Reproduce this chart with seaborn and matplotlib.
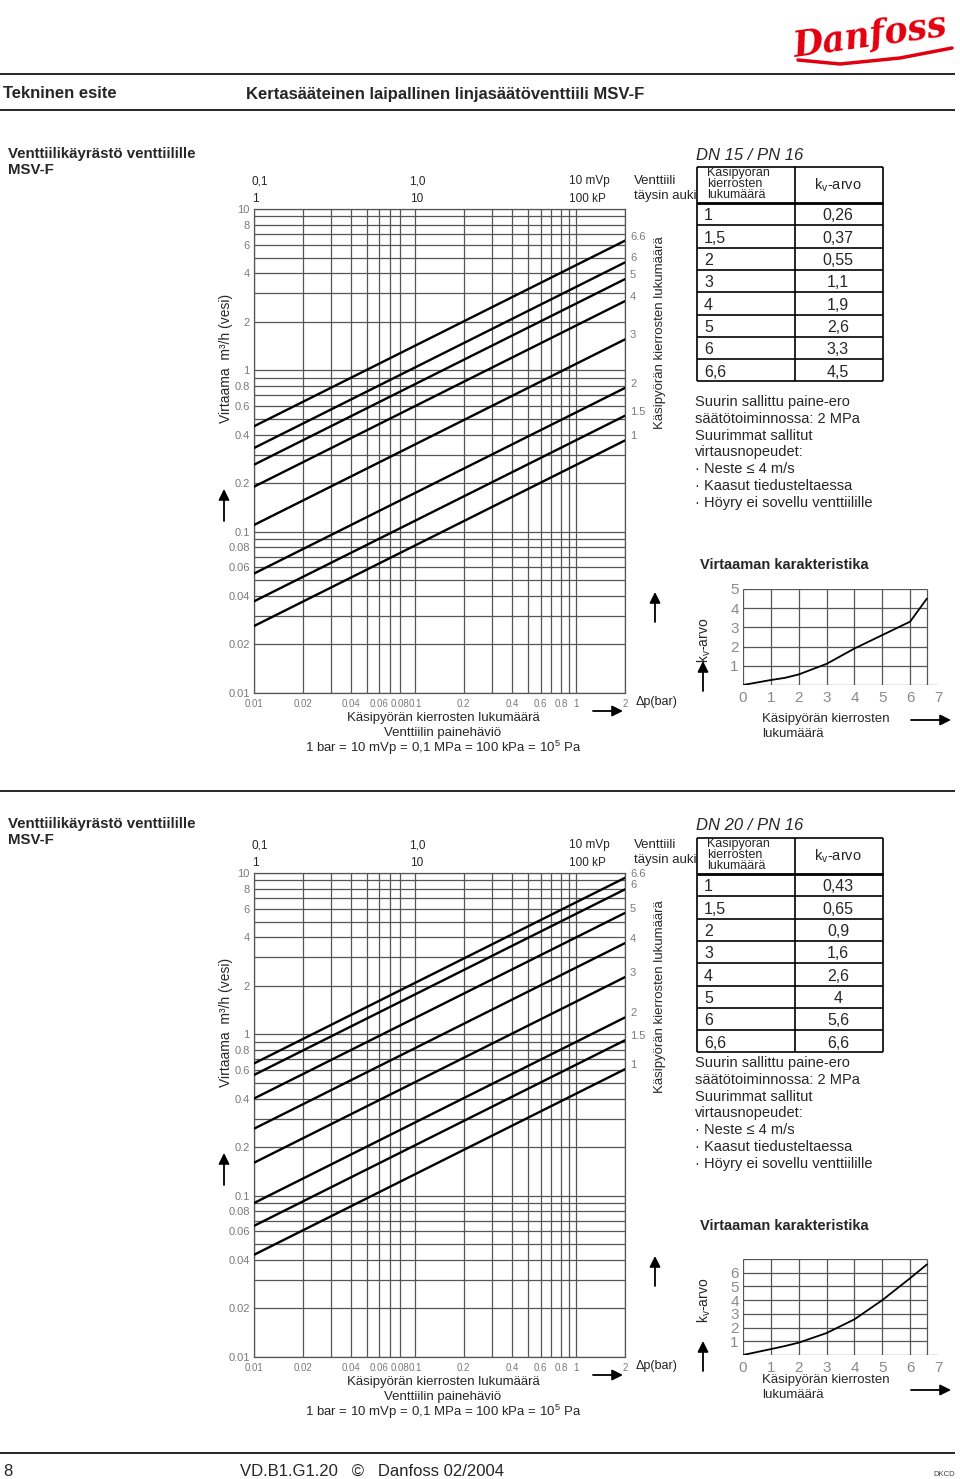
import numpy as np
import pandas as pd
import matplotlib
matplotlib.use("Agg")
import matplotlib.pyplot as plt
from matplotlib.ticker import NullLocator
import seaborn as sns

# ---------------- data ----------------
turns = [1, 1.5, 2, 3, 4, 5, 6, 6.6]
turn_labels = ["1", "1.5", "2", "3", "4", "5", "6", "6.6"]
turn_labels_fi = ["1", "1,5", "2", "3", "4", "5", "6", "6,6"]
kv_dn15 = [0.26, 0.37, 0.55, 1.1, 1.9, 2.6, 3.3, 4.5]
kv_dn20 = [0.43, 0.65, 0.9, 1.6, 2.6, 4, 5.6, 6.6]
kv_dn15_labels = ["0,26", "0,37", "0,55", "1,1", "1,9", "2,6", "3,3", "4,5"]
kv_dn20_labels = ["0,43", "0,65", "0,9", "1,6", "2,6", "4", "5,6", "6,6"]
dp_range = [0.01, 2]           # bar
x_ticks = [0.01, 0.02, 0.04, 0.06, 0.08, 0.1, 0.2, 0.4, 0.6, 0.8, 1, 2]
x_ticklabels = ["0.01", "0.02", "0.04", "0.06", "0.08", "0.1", "0.2", "0.4", "0.6", "0.8", "1", "2"]
y_ticks = [0.01, 0.02, 0.04, 0.06, 0.08, 0.1, 0.2, 0.4, 0.6, 0.8, 1, 2, 4, 6, 8, 10]
y_ticklabels = ["0.01", "0.02", "0.04", "0.06", "0.08", "0.1", "0.2", "0.4", "0.6", "0.8", "1", "2", "4", "6", "8", "10"]
x_grid = [0.01, 0.02, 0.03, 0.04, 0.05, 0.06, 0.07, 0.08, 0.1, 0.2, 0.3, 0.4, 0.5, 0.6, 0.7, 0.8, 0.9, 1, 2]
y_grid = [0.01, 0.02, 0.03, 0.04, 0.05, 0.06, 0.07, 0.08, 0.09,
          0.1, 0.2, 0.3, 0.4, 0.5, 0.6, 0.7, 0.8, 0.9,
          1, 2, 3, 4, 5, 6, 7, 8, 9, 10]
char_turns = [0, 1, 1.5, 2, 3, 4, 5, 6, 6.6]
char_dn15 = [0, 0.26, 0.37, 0.55, 1.1, 1.9, 2.6, 3.3, 4.5]
char_dn20 = [0, 0.43, 0.65, 0.9, 1.6, 2.6, 4, 5.6, 6.6]
notes = ["Suurin sallittu paine-ero", "säätötoiminnossa: 2 MPa", "Suurimmat sallitut",
         "virtausnopeudet:", "· Neste ≤ 4 m/s", "· Kaasut tiedusteltaessa",
         "· Höyry ei sovellu venttiilille"]

# ---------------- style ----------------
sns.set_theme(style="white")
plt.rcParams["font.family"] = ["Liberation Sans", "DejaVu Sans"]
plt.rcParams["mathtext.fontset"] = "custom"
plt.rcParams["mathtext.rm"] = "Liberation Sans"
TICKFONT = ["Liberation Sans", "DejaVu Sans"]
GRID = "#555555"
TICKC = "#7a7a7a"

W, H = 960, 1479
fig = plt.figure(figsize=(W / 100, H / 100), dpi=100)
ov = fig.add_axes([0, 0, 1, 1])
ov.set_xlim(0, W)
ov.set_ylim(H, 0)
ov.axis("off")


def axes_px(left, top, right, bottom):
    return fig.add_axes([left / W, 1 - bottom / H, (right - left) / W, (bottom - top) / H])


def txt(x, y, s, **kw):
    kw.setdefault("va", "center")
    kw.setdefault("fontsize", 10)
    ov.text(x, y, s, **kw)


def hline(y, x0, x1, lw=1.0, color="black"):
    ov.plot([x0, x1], [y, y], color=color, lw=lw, solid_capstyle="butt")


def vline(x, y0, y1, lw=1.0, color="black"):
    ov.plot([x, x], [y0, y1], color=color, lw=lw, solid_capstyle="butt")


def arrow(x0, y0, x1, y1):
    ov.annotate("", xy=(x1, y1), xytext=(x0, y0),
                arrowprops=dict(arrowstyle="-|>", color="black", lw=1.3,
                                mutation_scale=16, shrinkA=0, shrinkB=0))


# ---------------- header / footer ----------------
txt(950, 36, "Danfoss", ha="right", fontsize=25, color="#E2000F",
    family="DejaVu Serif", fontweight="bold", fontstyle="italic", rotation=8)
ov.plot([798, 840, 900, 952], [60, 64, 58, 48], color="#E2000F", lw=2.5)
hline(74, 0, 955, lw=1.2)
hline(110, 0, 955, lw=1.2)
txt(3, 94, "Tekninen esite", fontsize=12, fontweight="bold")
txt(246, 94, "Kertasääteinen laipallinen linjasäätöventtiili MSV-F", fontsize=12, fontweight="bold")
hline(791, 0, 955, lw=1.2)
hline(1453, 0, 955, lw=1.2)
txt(3, 1471, "8", fontsize=12)
txt(240, 1471, "VD.B1.G1.20   ©   Danfoss 02/2004", fontsize=12)
txt(955, 1475, "DKCD", ha="right", fontsize=5.5, color="#444")


# ---------------- main chart ----------------
def draw_main(top, kv, dy):
    ax = axes_px(254, top, 625, top + 484)
    rows = []
    for t, k in zip(turn_labels, kv):
        for dp in dp_range:
            rows.append({"turns": t, "dp": dp, "flow": k * np.sqrt(dp)})
    df = pd.DataFrame(rows)
    sns.lineplot(data=df, x="dp", y="flow", units="turns", estimator=None,
                 color="black", lw=1.7, ax=ax, legend=False, zorder=3)
    ax.set_xscale("log")
    ax.set_yscale("log")
    ax.set_xlim(0.01, 2)
    ax.set_ylim(0.01, 10)
    for v in x_grid:
        ax.axvline(v, color=GRID, lw=0.9, zorder=1)
    for v in y_grid:
        ax.axhline(v, color=GRID, lw=0.9, zorder=1)
    for s in ax.spines.values():
        s.set_color(GRID)
        s.set_linewidth(0.9)
    ax.set_xticks(x_ticks, x_ticklabels)
    ax.set_yticks(y_ticks, y_ticklabels)
    ax.xaxis.set_minor_locator(NullLocator())
    ax.yaxis.set_minor_locator(NullLocator())
    ax.tick_params(axis="y", length=0, labelsize=8, labelcolor=TICKC, pad=3)
    ax.tick_params(axis="x", length=0, labelsize=7, labelcolor=TICKC, pad=4)
    for lab in ax.get_xticklabels() + ax.get_yticklabels():
        lab.set_family(TICKFONT)
    ax.set_xlabel("")
    ax.set_ylabel("")
    ax.set_facecolor("white")
    for t, k in zip(turn_labels, kv):
        ax.annotate(t, xy=(2, k * np.sqrt(2)), xytext=(5, 4), textcoords="offset pixels",
                    fontsize=8, color=TICKC, va="center", ha="left", annotation_clip=False,
                    family=TICKFONT)
    # surrounding texts (pixel positions)
    txt(252, 181 + dy, "0,1", fontsize=8.5)
    txt(417, 181 + dy, "1,0", fontsize=8.5, ha="center")
    txt(569, 181 + dy, "10 mVp", fontsize=8.5)
    txt(252, 199 + dy, "1", fontsize=8.5)
    txt(417, 199 + dy, "10", fontsize=8.5, ha="center")
    txt(569, 199 + dy, "100 kP", fontsize=8.5)
    txt(226, 358 + dy, "Virtaama  m³/h (vesi)", rotation=90, ha="center", fontsize=10)
    txt(660, 333 + dy, "Käsipyörän kierrosten lukumäärä", rotation=90, ha="center", fontsize=9.5)
    txt(634, 181 + dy, "Venttiili", fontsize=9.5)
    txt(634, 196 + dy, "täysin auki", fontsize=9.5)
    txt(443, 718 + dy, "Käsipyörän kierrosten lukumäärä", ha="center", fontsize=9.5)
    txt(443, 733 + dy, "Venttiilin painehäviö", ha="center", fontsize=9.5)
    txt(443, 748 + dy, r"1 bar = 10 mVp = 0,1 MPa = 100 kPa = 10$^\mathregular{5}$ Pa", ha="center", fontsize=9.5)
    txt(636, 702 + dy, "Δp(bar)", fontsize=9, color="#222")
    arrow(224, 521 + dy, 224, 489 + dy)
    arrow(593, 711 + dy, 623, 711 + dy)
    arrow(655, 622 + dy, 655, 592 + dy)


def draw_table(top, hdr_bottom, title, kv_labels):
    txt(696, top - 12, title, fontsize=12, fontstyle="italic")
    rh = 22.3
    bottom = hdr_bottom + rh * len(turns)
    hline(top, 697, 883, lw=1.2)
    hline(hdr_bottom, 697, 883, lw=2.0)
    for i in range(1, len(turns) + 1):
        hline(hdr_bottom + rh * i, 697, 883, lw=1.2)
    vline(697, top, bottom, lw=1.2)
    vline(795, top, bottom, lw=1.2)
    vline(883, top, bottom, lw=1.2)
    hc = (top + hdr_bottom) / 2
    txt(707, hc - 12, "Käsipyörän", fontsize=9)
    txt(707, hc - 1, "kierrosten", fontsize=9)
    txt(707, hc + 10, "lukumäärä", fontsize=9)
    txt(838, hc, r"k$_\mathregular{v}$-arvo", fontsize=10.5, ha="center")
    for i, (t, k) in enumerate(zip(turn_labels_fi, kv_labels)):
        yc = hdr_bottom + rh * (i + 0.58)
        txt(704, yc, t, fontsize=11.5)
        txt(838, yc, k, fontsize=11.5, ha="center")


def draw_notes(y0):
    for i, s in enumerate(notes):
        txt(695, y0 + 16.8 * i, s, fontsize=10.5)


def draw_char(top, bottom, ymax, yt, kv_curve, title_y, lab_y, x1_y, arr_y0, arr_x_y):
    ax = axes_px(743, top, 938, bottom)
    ax.set_xlim(0, 7)
    ax.set_ylim(0, ymax)
    for s in ax.spines.values():
        s.set_visible(False)
    ax.vlines([0, 1, 2, 3, 4, 5, 6, 6.6], 0, ymax, color=GRID, lw=0.9, zorder=1)
    ax.hlines(list(range(1, ymax + 1)), 0, 6.6, color=GRID, lw=0.9, zorder=1)
    ax.hlines([0], 0, 7, color=GRID, lw=0.9, zorder=1)
    df = pd.DataFrame({"turns": char_turns, "kv": kv_curve})
    sns.lineplot(data=df, x="turns", y="kv", color="black", lw=1.3, ax=ax, zorder=3)
    ax.set_xticks(range(0, 8), [str(i) for i in range(0, 8)])
    ax.set_yticks(yt, [str(v) for v in yt])
    ax.tick_params(length=0, labelsize=11, labelcolor="#8a8a8a", pad=4)
    ax.tick_params(axis="y", pad=3)
    for lab in ax.get_xticklabels() + ax.get_yticklabels():
        lab.set_family(TICKFONT)
    ax.set_xlabel("")
    ax.set_ylabel("")
    ax.patch.set_alpha(0)
    txt(700, title_y, "Virtaaman karakteristika", fontsize=10.5, fontweight="bold")
    txt(704, lab_y, r"k$_\mathregular{v}$-arvo", rotation=90, ha="center", fontsize=10)
    txt(762, x1_y, "Käsipyörän kierrosten", fontsize=9.5)
    txt(762, x1_y + 15, "lukumäärä", fontsize=9.5)
    arrow(703, arr_y0, 703, arr_y0 - 30)
    arrow(911, arr_x_y, 951, arr_x_y)


# ---------------- top section (DN 15) ----------------
txt(8, 154, "Venttiilikäyrästö venttiilille", fontsize=10.8, fontweight="bold")
txt(8, 170, "MSV-F", fontsize=10.8, fontweight="bold")
draw_main(209, kv_dn15, 0)
draw_table(167, 203, "DN 15 / PN 16", kv_dn15_labels)
draw_notes(402)
draw_char(589, 685, 5, [1, 2, 3, 4, 5], char_dn15, 565, 640, 719, 691, 720)

# ---------------- bottom section (DN 20) ----------------
txt(8, 824, "Venttiilikäyrästö venttiilille", fontsize=10.8, fontweight="bold")
txt(8, 840, "MSV-F", fontsize=10.8, fontweight="bold")
draw_main(873, kv_dn20, 664)
draw_table(838, 874, "DN 20 / PN 16", kv_dn20_labels)
draw_notes(1063)
draw_char(1259, 1355, 7, [1, 2, 3, 4, 5, 6], char_dn20, 1226, 1300, 1380, 1371, 1390)

fig.savefig("out.png", dpi=100)
